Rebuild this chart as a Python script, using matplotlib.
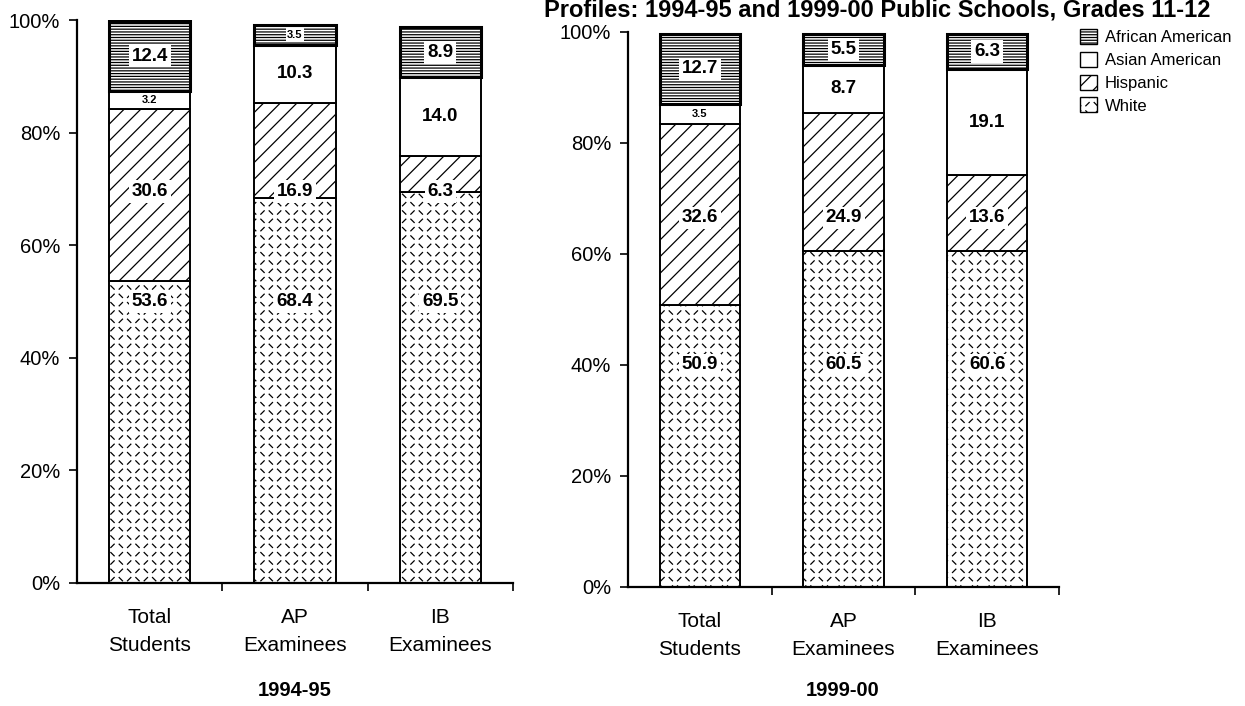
import warnings

import matplotlib
matplotlib.use('Agg')
import matplotlib.pyplot as plt
import matplotlib.hatch as mhatch
from matplotlib.patches import Patch
from matplotlib.path import Path
import numpy as np

warnings.filterwarnings("ignore")

# ---- data (percent of group) ----
groups = ["Total\nStudents", "AP\nExaminees", "IB\nExaminees"]
years = ["1994-95", "1999-00"]

white_9495 = [53.6, 68.4, 69.5]
hisp_9495 = [30.6, 16.9, 6.3]
asian_9495 = [3.2, 10.3, 14.0]
afam_9495 = [12.4, 3.5, 8.9]

white_9900 = [50.9, 60.5, 60.6]
hisp_9900 = [32.6, 24.9, 13.6]
asian_9900 = [3.5, 8.7, 19.1]
afam_9900 = [12.7, 5.5, 6.3]

series_names = ["White", "Hispanic", "Asian American", "African American"]


class DiamondDash(mhatch.HatchPatternBase):
    """Short alternating dashes, like a diamond-plate fill."""

    def __init__(self, hatch, density):
        self.num_cells = hatch.count('d') * density
        self.num_vertices = self.num_cells ** 2 * 2

    def set_vertices_and_codes(self, vertices, codes):
        n = self.num_cells
        h = 0.2 / n
        k = 0
        for i in range(n):
            for j in range(n):
                cx, cy = (i + 0.5) / n, (j + 0.5) / n
                s = 1 if (i + j) % 2 else -1
                vertices[k] = (cx - h, cy - s * h)
                vertices[k + 1] = (cx + h, cy + s * h)
                codes[k] = Path.MOVETO
                codes[k + 1] = Path.LINETO
                k += 2


mhatch._hatch_types.append(DiamondDash)

hatches = {"White": "dd", "Hispanic": "//", "Asian American": "", "African American": "------"}

plt.rcParams['font.family'] = ['Liberation Sans', 'DejaVu Sans']
plt.rcParams['hatch.linewidth'] = 0.9

fig = plt.figure(figsize=(12.45, 7.06), dpi=100)
ax_l = fig.add_axes([77 / 1245, 1 - 583 / 706, 436 / 1245, 563 / 706])
ax_r = fig.add_axes([628 / 1245, 1 - 587 / 706, 431 / 1245, 555 / 706])

panels = [
    (ax_l, [white_9495, hisp_9495, asian_9495, afam_9495], {"White": 50, "Hispanic": 69.5}),
    (ax_r, [white_9900, hisp_9900, asian_9900, afam_9900], {"White": 40, "Hispanic": 66.5}),
]

x = np.arange(len(groups))
for ax, data, row_y in panels:
    bottom = np.zeros(len(groups))
    for name, vals in zip(series_names, data):
        vals = np.asarray(vals)
        lw = 2.2 if name == "African American" else 1.4
        ax.bar(x, vals, width=0.56, bottom=bottom, color='white', edgecolor='black',
               hatch=hatches[name], linewidth=lw, zorder=2)
        for xi, b, v in zip(x, bottom, vals):
            y = row_y.get(name, b + v / 2)
            small = v < 4
            ax.text(xi, y, f"{v:.1f}", ha='center', va='center',
                    fontsize=8 if small else 13.5, fontweight='bold',
                    bbox=dict(facecolor='white', edgecolor='none', pad=1.2 if small else 2.0),
                    zorder=4)
        bottom = bottom + vals

    ax.set_xlim(-0.5, 2.5)
    ax.set_ylim(0, 100)
    ax.set_yticks(np.arange(0, 101, 20))
    ax.set_yticklabels([f"{v}%" for v in range(0, 101, 20)], fontsize=14.5)
    ax.set_xticks(x)
    ax.set_xticklabels(groups, fontsize=15, linespacing=1.6)
    ax.set_xticks([0.5, 1.5, 2.5], minor=True)
    ax.tick_params(axis='x', which='major', length=0, pad=18)
    ax.tick_params(axis='x', which='minor', length=6, width=1.2, direction='out')
    ax.tick_params(axis='y', length=6, width=1.2, direction='out', pad=6)
    for side in ('top', 'right'):
        ax.spines[side].set_visible(False)
    ax.spines['left'].set_linewidth(1.6)
    ax.spines['bottom'].set_linewidth(1.6)

fig.text(295 / 1245, 1 - 690 / 706, years[0], ha='center', va='center',
         fontsize=14.5, fontweight='bold')
fig.text(843 / 1245, 1 - 690 / 706, years[1], ha='center', va='center',
         fontsize=14.5, fontweight='bold')

# title (only its right part is readable in the source scan)
fig.text(1210 / 1245, 1 - 17 / 706,
         "Profiles: 1994-95 and 1999-00 Public Schools, Grades 11-12",
         ha='right', va='baseline', fontsize=17, fontweight='bold')

handles = [Patch(facecolor='white', edgecolor='black', hatch=hatches[n], label=n)
           for n in series_names[::-1]]
fig.legend(handles=handles, loc='upper left', bbox_to_anchor=(1080 / 1245, 1 - 29 / 706),
           frameon=False, fontsize=12, handlelength=1.0, handleheight=1.0,
           handletextpad=0.5, labelspacing=0.4, borderaxespad=0, borderpad=0)

fig.savefig("out.png", dpi=100)
plt.close(fig)
